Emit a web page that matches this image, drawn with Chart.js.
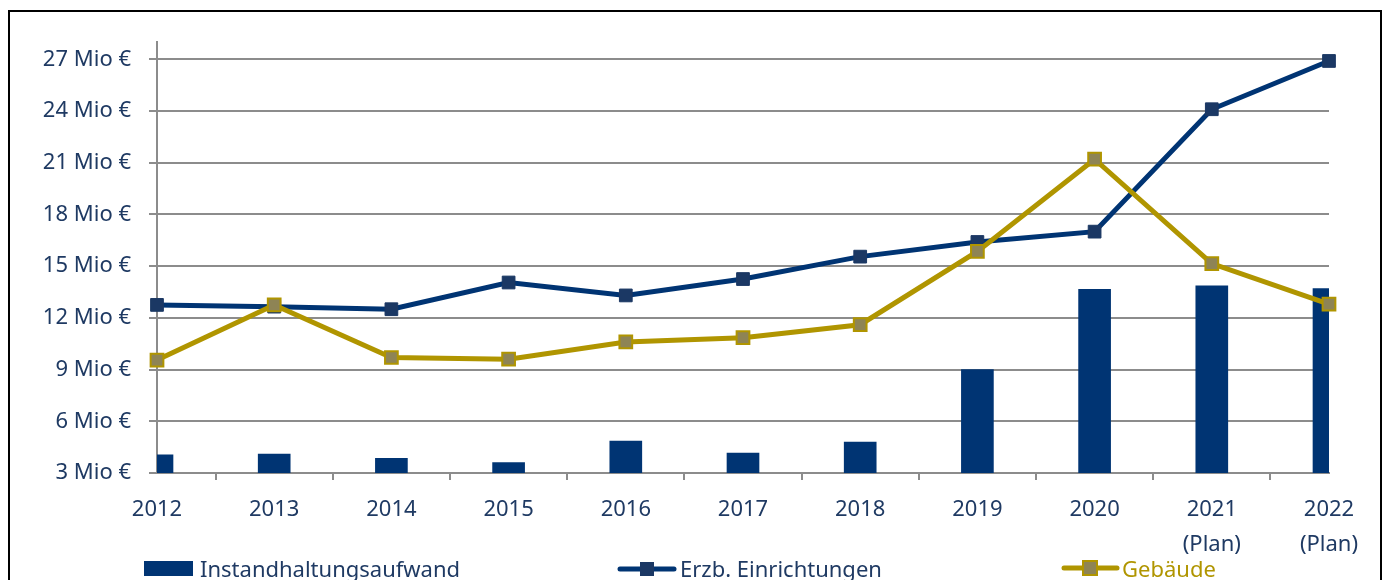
<!DOCTYPE html>
<html>
<head>
<meta charset="utf-8">
<script src="https://cdn.jsdelivr.net/npm/chart.js@4/dist/chart.umd.min.js"></script>
<style>
  html, body { margin: 0; padding: 0; background: #fff; overflow: hidden; }
  #wrap { position: absolute; left: 0; top: 0; width: 1386px; height: 580px; }
  #frame { position: absolute; left: 8px; top: 10px; width: 1374px; height: 620px; border: 2px solid #000; box-sizing: border-box; pointer-events: none; }
</style>
</head>
<body>
<div id="wrap"><canvas id="c" width="1386" height="580"></canvas></div>
<div id="frame"></div>
<script>
// ---- data ----
const categories = ['2012', '2013', '2014', '2015', '2016', '2017', '2018', '2019', '2020', ['2021', '(Plan)'], ['2022', '(Plan)']];
const instandhaltung = [4.05, 4.1, 3.85, 3.6, 4.85, 4.15, 4.8, 9.0, 13.65, 13.85, 13.7];
const erzbEinrichtungen = [12.75, 12.65, 12.5, 14.05, 13.3, 14.25, 15.55, 16.4, 17.0, 24.1, 26.9];
const gebaeude = [9.55, 12.75, 9.7, 9.6, 10.6, 10.85, 11.6, 15.85, 21.2, 15.15, 12.8];
const seriesNames = ['Instandhaltungsaufwand', 'Erzb. Einrichtungen', 'Gebäude'];
const yMin = 3, yMax = 28, yStep = 3;
const tickSuffix = ' Mio €';

// ---- styles ----
const NAVY = '#003473';
const NAVY_MARK = '#1b3864';
const GOLD = '#b09500';
const GOLD_MARK = '#8e8455';
const TEXT = '#1f3a63';
const GRID = '#8c8c8c';
const FONT = '"Noto Sans", sans-serif';

const legendPlugin = {
  id: 'customLegend',
  afterDraw(chart) {
    const ctx = chart.ctx;
    ctx.save();
    ctx.font = '22px ' + FONT;
    ctx.textBaseline = 'alphabetic';
    ctx.textAlign = 'left';
    // bar entry
    ctx.fillStyle = NAVY;
    ctx.fillRect(144, 561, 49, 15);
    ctx.fillStyle = TEXT;
    ctx.fillText(seriesNames[0], 200, 577);
    // navy line entry
    ctx.strokeStyle = NAVY; ctx.lineWidth = 5; ctx.lineCap = 'round';
    ctx.beginPath(); ctx.moveTo(620, 569); ctx.lineTo(674, 569); ctx.stroke();
    ctx.fillStyle = NAVY_MARK;
    ctx.fillRect(640, 562, 14, 14);
    ctx.fillStyle = TEXT;
    ctx.fillText(seriesNames[1], 680, 577);
    // gold line entry
    ctx.strokeStyle = GOLD; ctx.lineWidth = 5;
    ctx.beginPath(); ctx.moveTo(1064, 568); ctx.lineTo(1117, 568); ctx.stroke();
    ctx.fillStyle = GOLD_MARK; ctx.strokeStyle = GOLD; ctx.lineWidth = 2;
    ctx.fillRect(1083, 561, 14, 14); ctx.strokeRect(1083, 561, 14, 14);
    ctx.fillStyle = GOLD;
    ctx.fillText(seriesNames[2], 1122, 577);
    ctx.restore();
  }
};

new Chart(document.getElementById('c'), {
  type: 'bar',
  data: {
    labels: categories,
    datasets: [
      {
        type: 'line', label: seriesNames[2], data: gebaeude, order: 1,
        borderColor: GOLD, borderWidth: 5, backgroundColor: GOLD_MARK,
        pointStyle: 'rect', pointRadius: 9, pointBorderWidth: 2,
        pointBackgroundColor: GOLD_MARK, pointBorderColor: GOLD,
        tension: 0, clip: false
      },
      {
        type: 'line', label: seriesNames[1], data: erzbEinrichtungen, order: 2,
        borderColor: NAVY, borderWidth: 5, backgroundColor: NAVY_MARK,
        pointStyle: 'rect', pointRadius: 9, pointBorderWidth: 1,
        pointBackgroundColor: NAVY_MARK, pointBorderColor: NAVY_MARK,
        tension: 0, clip: false
      },
      {
        type: 'bar', label: seriesNames[0], data: instandhaltung, order: 3,
        backgroundColor: NAVY, barThickness: 32, clip: 0
      }
    ]
  },
  options: {
    responsive: false,
    animation: false,
    devicePixelRatio: 1,
    layout: { padding: { left: 0, top: 42, right: 57, bottom: 0 } },
    plugins: { legend: { display: false }, tooltip: { enabled: false } },
    scales: {
      x: {
        type: 'category',
        offset: false,
        afterFit(scale) { scale.height = 107; },
        grid: { display: true, offset: true, drawOnChartArea: false, drawTicks: true, tickLength: 7, color: GRID, lineWidth: 2 },
        border: { display: true, color: GRID, width: 2 },
        ticks: { color: TEXT, font: { family: FONT, size: 22, lineHeight: 1.6 }, padding: 12, maxRotation: 0, autoSkip: false }
      },
      y: {
        min: yMin, max: yMax,
        afterFit(scale) { scale.width = 157; },
        grid: { color: GRID, lineWidth: 2, drawTicks: true, tickLength: 8 },
        border: { display: true, color: GRID, width: 2 },
        ticks: {
          stepSize: yStep, includeBounds: false, color: TEXT, padding: 18,
          font: { family: FONT, size: 22 },
          callback: (v) => v + tickSuffix
        }
      }
    }
  },
  plugins: [legendPlugin]
});
</script>
</body>
</html>
